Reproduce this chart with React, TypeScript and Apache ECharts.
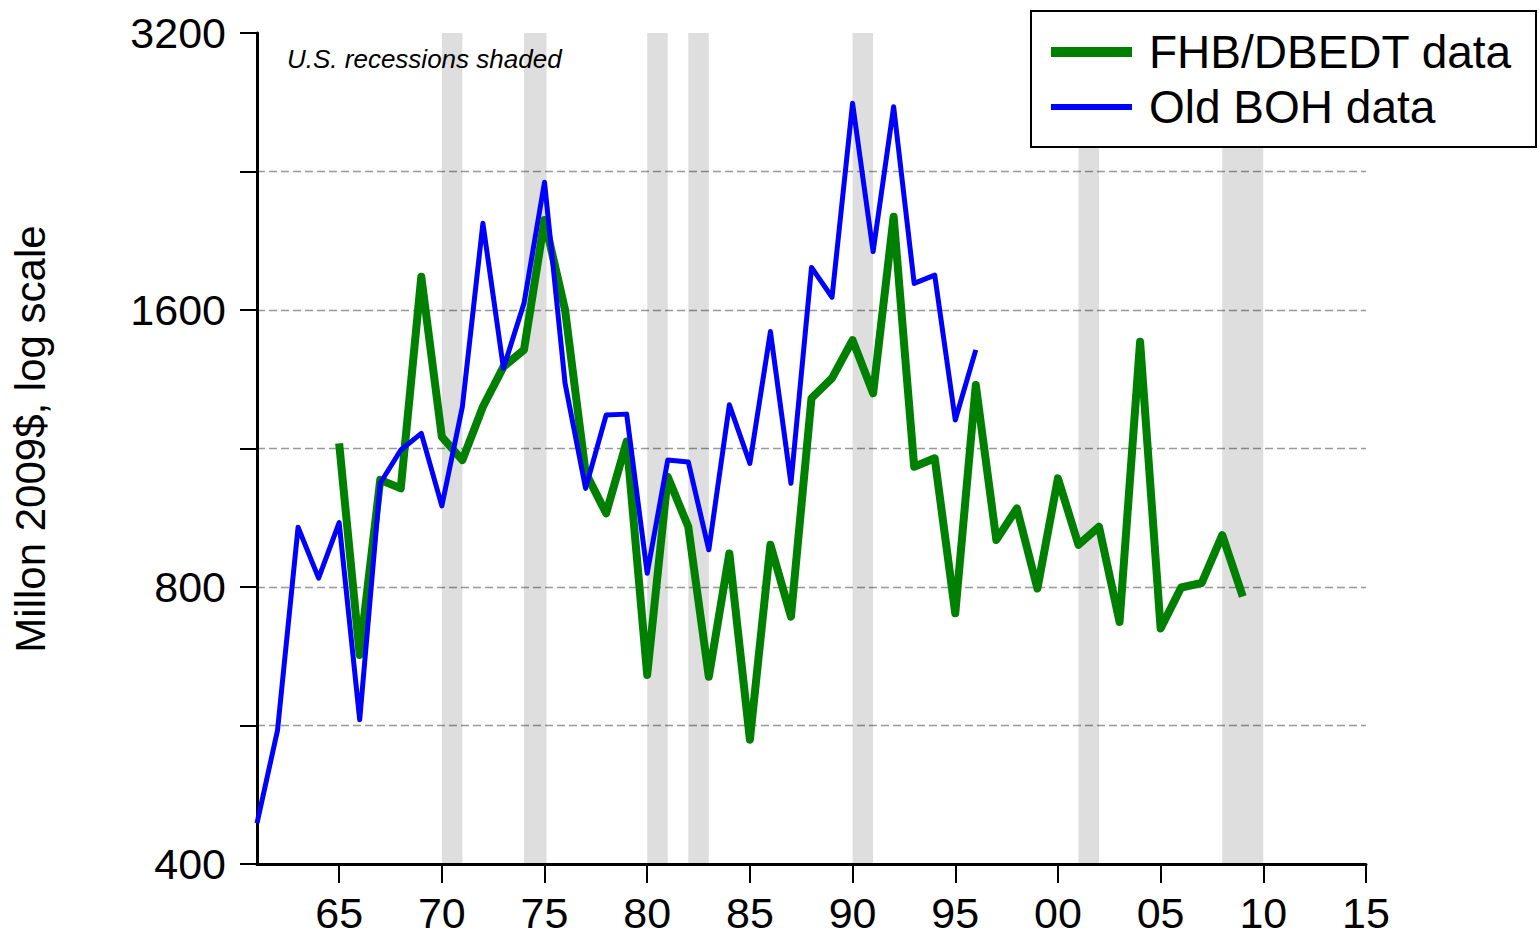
import React, { useEffect, useRef } from "react";
import * as echarts from "echarts";

const FONT = "'Liberation Sans', Arial, Helvetica, sans-serif";

// Old BOH data, 1961-1996 (million 2009$)
const bohYears = [
  1961, 1962, 1963, 1964, 1965, 1966, 1967, 1968, 1969, 1970,
  1971, 1972, 1973, 1974, 1975, 1976, 1977, 1978, 1979, 1980,
  1981, 1982, 1983, 1984, 1985, 1986, 1987, 1988, 1989, 1990,
  1991, 1992, 1993, 1994, 1995, 1996,
];
const bohValues = [
  443, 559, 929, 818, 940, 574, 1037, 1127, 1175, 980,
  1256, 1988, 1383, 1627, 2203, 1332, 1024, 1230, 1233, 828,
  1099, 1094, 878, 1262, 1090, 1516, 1037, 1780, 1652, 2684,
  1852, 2661, 1710, 1746, 1215, 1448,
];

// FHB/DBEDT data, 1965-2009 (million 2009$)
const fhbYears = [
  1965, 1966, 1967, 1968, 1969, 1970, 1971, 1972, 1973, 1974,
  1975, 1976, 1977, 1978, 1979, 1980, 1981, 1982, 1983, 1984,
  1985, 1986, 1987, 1988, 1989, 1990, 1991, 1992, 1993, 1994,
  1995, 1996, 1997, 1998, 1999, 2000, 2001, 2002, 2003, 2004,
  2005, 2006, 2007, 2008, 2009,
];
const fhbValues = [
  1146, 675, 1046, 1024, 1739, 1165, 1099, 1256, 1388, 1448,
  2004, 1600, 1065, 962, 1151, 642, 1054, 930, 639, 870,
  546, 889, 743, 1283, 1349, 1484, 1299, 2021, 1081, 1104,
  749, 1326, 900, 974, 797, 1050, 889, 930, 733, 1478,
  721, 799, 808, 911, 781,
];

// U.S. recessions (start year, end year)
const recessionStarts = [1970, 1974, 1980, 1982, 1990, 2001, 2008];
const recessionEnds = [1971, 1975.1, 1981, 1983, 1991, 2002, 2010];

// Axis ticks
const xTicks = [1965, 1970, 1975, 1980, 1985, 1990, 1995, 2000, 2005, 2010, 2015];
const yBase = 400; // log2 scale origin: value axis shows log2(v / 400)
const yLabelValues = [400, 800, 1600, 3200];

const toLog = (v: number) => Math.log2(v / yBase);

export default function App() {
  const ref = useRef<HTMLDivElement>(null);

  useEffect(() => {
    if (!ref.current) return;
    const chart = echarts.init(ref.current, null, { renderer: "svg" });

    const fhbData = fhbYears.map((y, i) => [y, toLog(fhbValues[i])]);
    const bohData = bohYears.map((y, i) => [y, toLog(bohValues[i])]);
    const labelLogs = yLabelValues.map(toLog);

    const option: any = {
      animation: false,
      backgroundColor: "#fff",
      grid: { left: 257, right: 173, top: 33, bottom: 73, containLabel: false },
      xAxis: {
        type: "value",
        min: 1961,
        max: 2015,
        axisLine: { show: true, lineStyle: { color: "#000", width: 3 } },
        axisTick: {
          show: true,
          length: 19,
          lineStyle: { color: "#000", width: 2 },
          customValues: xTicks,
        },
        axisLabel: {
          show: true,
          customValues: xTicks,
          margin: 27,
          fontSize: 43,
          lineHeight: 43,
          fontFamily: FONT,
          color: "#000",
          formatter: (v: number) => String(Math.round(v) % 100).padStart(2, "0"),
        },
        splitLine: { show: false },
      },
      yAxis: {
        type: "value",
        min: 0,
        max: 3,
        interval: 0.5,
        axisLine: { show: true, lineStyle: { color: "#000", width: 3 } },
        axisTick: { show: true, length: 17, lineStyle: { color: "#000", width: 2 } },
        axisLabel: {
          show: true,
          margin: 31,
          fontSize: 43,
          fontFamily: FONT,
          color: "#000",
          padding: [0, 0, 8, 0],
          formatter: (v: number) => {
            const hit = labelLogs.findIndex((l) => Math.abs(l - v) < 1e-6);
            return hit >= 0 ? String(yLabelValues[hit]) : "";
          },
        },
        splitLine: {
          show: true,
          showMinLine: false,
          showMaxLine: false,
          lineStyle: { color: "#999", width: 1.3, type: [8, 4] },
        },
      },
      legend: {
        orient: "vertical",
        left: 1031,
        top: 11,
        data: [
          { name: "FHB/DBEDT data", lineStyle: { width: 10 } },
          { name: "Old BOH data", lineStyle: { width: 6 } },
        ],
        itemWidth: 81,
        itemHeight: 10,
        itemGap: 5,
        padding: [16, 24, 15, 15],
        backgroundColor: "#fff",
        borderColor: "#000",
        borderWidth: 2,
        borderRadius: 0,
        itemStyle: { opacity: 0 },
        textStyle: {
          fontSize: 46,
          lineHeight: 50,
          fontFamily: FONT,
          color: "#000",
          padding: [0, 0, 0, 12],
        },
      },
      graphic: [
        {
          type: "text",
          x: 30,
          y: 439,
          rotation: Math.PI / 2,
          style: {
            text: "Millon 2009$, log scale",
            font: `42px ${FONT}`,
            fill: "#000",
            align: "center",
            verticalAlign: "middle",
          },
        },
        {
          type: "text",
          x: 287,
          y: 59,
          style: {
            text: "U.S. recessions shaded",
            font: `italic 26px ${FONT}`,
            fill: "#000",
            align: "left",
            verticalAlign: "middle",
          },
        },
      ],
      series: [
        {
          name: "recessions",
          type: "line",
          data: [],
          silent: true,
          z: 1,
          markArea: {
            silent: true,
            itemStyle: { color: "rgba(0,0,0,0.13)" },
            data: recessionStarts.map((s, i) => [{ xAxis: s }, { xAxis: recessionEnds[i] }]),
          },
        },
        {
          name: "FHB/DBEDT data",
          type: "line",
          data: fhbData,
          symbol: "none",
          z: 3,
          lineStyle: { color: "#008000", width: 8, join: "round", cap: "butt" },
          itemStyle: { color: "#008000" },
        },
        {
          name: "Old BOH data",
          type: "line",
          data: bohData,
          symbol: "none",
          z: 4,
          lineStyle: { color: "#0000ff", width: 5, join: "round", cap: "butt" },
          itemStyle: { color: "#0000ff" },
        },
      ],
    };

    chart.setOption(option);
    return () => {
      chart.dispose();
    };
  }, []);

  return (
    <div
      ref={ref}
      style={{ position: "absolute", left: 0, top: 0, width: 1539, height: 937 }}
    />
  );
}
